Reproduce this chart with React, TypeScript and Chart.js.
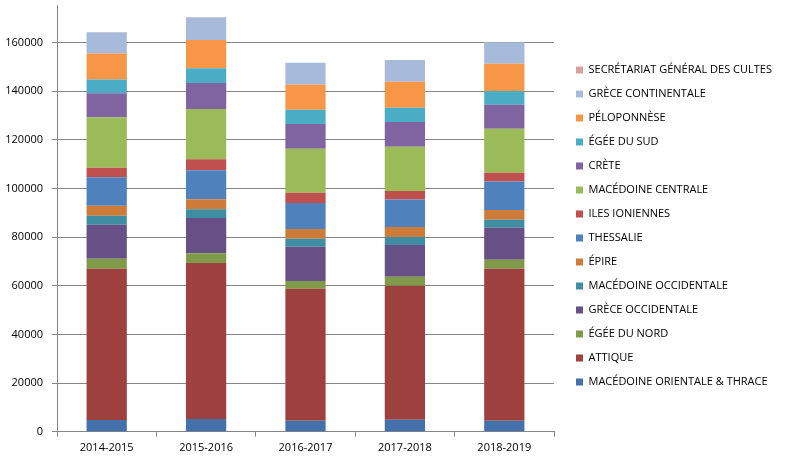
import React, { useEffect, useRef } from "react";
import { Chart, registerables } from "chart.js";

Chart.register(...registerables);

const years = ["2014-2015", "2015-2016", "2016-2017", "2017-2018", "2018-2019"];

const macedoineOrientaleThrace = [4800, 5200, 4500, 4900, 4500];
const attique = [62200, 64100, 54300, 55100, 62500];
const egeeDuNord = [4100, 4100, 3100, 3700, 3700];
const greceOccidentale = [14000, 14400, 14100, 13000, 13100];
const macedoineOccidentale = [3700, 3600, 3300, 3300, 3300];
const epire = [4100, 4100, 4000, 4100, 4000];
const thessalie = [11700, 12000, 10700, 11300, 11700];
const ilesIoniennes = [3900, 4500, 4200, 3500, 3600];
const macedoineCentrale = [20800, 20600, 18100, 18200, 18100];
const crete = [9800, 10700, 10200, 10200, 9900];
const egeeDuSud = [5700, 6100, 5800, 5900, 5700];
const peloponnese = [10700, 11600, 10300, 10700, 11100];
const greceContinentale = [8700, 9400, 9100, 8900, 8900];
const secretariat = [0, 0, 0, 0, 0];

const seriesNames = [
  "MACÉDOINE ORIENTALE & THRACE",
  "ATTIQUE",
  "ÉGÉE DU NORD",
  "GRÈCE OCCIDENTALE",
  "MACÉDOINE OCCIDENTALE",
  "ÉPIRE",
  "THESSALIE",
  "ILES IONIENNES",
  "MACÉDOINE CENTRALE",
  "CRÈTE",
  "ÉGÉE DU SUD",
  "PÉLOPONNÈSE",
  "GRÈCE CONTINENTALE",
  "SECRÉTARIAT GÉNÉRAL DES CULTES",
];

const seriesValues = [
  macedoineOrientaleThrace,
  attique,
  egeeDuNord,
  greceOccidentale,
  macedoineOccidentale,
  epire,
  thessalie,
  ilesIoniennes,
  macedoineCentrale,
  crete,
  egeeDuSud,
  peloponnese,
  greceContinentale,
  secretariat,
];

const seriesColors = [
  "#4571AB",
  "#9E413E",
  "#7F9A49",
  "#675085",
  "#3E8DA3",
  "#CC7B39",
  "#4F81BD",
  "#C0504D",
  "#9BBB59",
  "#8064A2",
  "#4BACC6",
  "#F79646",
  "#A8BAD9",
  "#D9A2A1",
];

const yTickValues = [0, 20000, 40000, 60000, 80000, 100000, 120000, 140000, 160000];

const FONT = "'Open Sans', 'DejaVu Sans', sans-serif";
const GRID = "#868686";

function makeConfig(): any {
  const placeLegend = {
    id: "placeLegend",
    beforeLayout(c: any) {
      const lg = c.legend;
      if (lg && !lg.__fixedWidth) {
        const orig = lg.fit.bind(lg);
        lg.fit = function () {
          orig();
          this.width = 232;
        };
        lg.__fixedWidth = true;
      }
    },
    afterLayout(c: any) {
      const lg = c.legend;
      if (lg) {
        lg.left = 563;
        lg.right = 786;
        lg.top -= 5;
        lg.bottom -= 5;
      }
    },
  };
  return {
    type: "bar",
    data: {
      labels: years,
      datasets: seriesNames.map((name, i) => ({
        label: name,
        data: seriesValues[i],
        backgroundColor: seriesColors[i],
        borderWidth: 0,
        categoryPercentage: 1,
        barPercentage: 0.405,
      })),
    },
    options: {
      animation: false,
      responsive: true,
      maintainAspectRatio: false,
      layout: { padding: { left: 5, top: 5, right: 0, bottom: 0 } },
      plugins: {
        tooltip: { enabled: false },
        legend: {
          position: "right",
          align: "center",
          reverse: true,
          labels: {
            boxWidth: 7,
            boxHeight: 7,
            padding: 13,
            color: "#000",
            font: { family: FONT, size: 11 },
          },
        },
      },
      scales: {
        x: {
          stacked: true,
          afterFit: (scale: any) => {
            scale.height = 25.3;
            scale.paddingLeft = 0;
            scale.paddingRight = 0;
          },
          grid: {
            offset: true,
            drawOnChartArea: false,
            drawTicks: true,
            tickLength: 5,
            color: GRID,
          },
          border: { display: true, color: GRID },
          ticks: { color: "#000", font: { family: FONT, size: 11 }, padding: 5, maxRotation: 0 },
        },
        y: {
          stacked: true,
          min: 0,
          max: 175400,
          afterBuildTicks: (scale: any) => {
            scale.ticks = yTickValues.map((v) => ({ value: v }));
          },
          afterFit: (scale: any) => {
            scale.width = 52;
            scale.paddingTop = 0;
            scale.paddingBottom = 0;
          },
          grid: { color: GRID, tickLength: 5 },
          border: { display: true, color: GRID },
          ticks: {
            color: "#000",
            font: { family: FONT, size: 11 },
            padding: 9,
            callback: (v: any) => String(v),
          },
        },
      },
    },
    plugins: [placeLegend],
  };
}

export default function App() {
  const ref = useRef<HTMLCanvasElement | null>(null);

  useEffect(() => {
    let chart: any = null;
    let cancelled = false;
    const build = () => {
      if (cancelled || !ref.current) return;
      chart = new Chart(ref.current, makeConfig());
    };
    const fontsApi = (document as any).fonts;
    if (fontsApi && fontsApi.load) {
      fontsApi.load("11px 'Open Sans'").then(build, build);
    } else {
      build();
    }
    return () => {
      cancelled = true;
      if (chart) chart.destroy();
    };
  }, []);

  return (
    <div style={{ position: "fixed", left: 0, top: 0, width: 786, height: 457, background: "#fff" }}>
      <canvas ref={ref} />
    </div>
  );
}
